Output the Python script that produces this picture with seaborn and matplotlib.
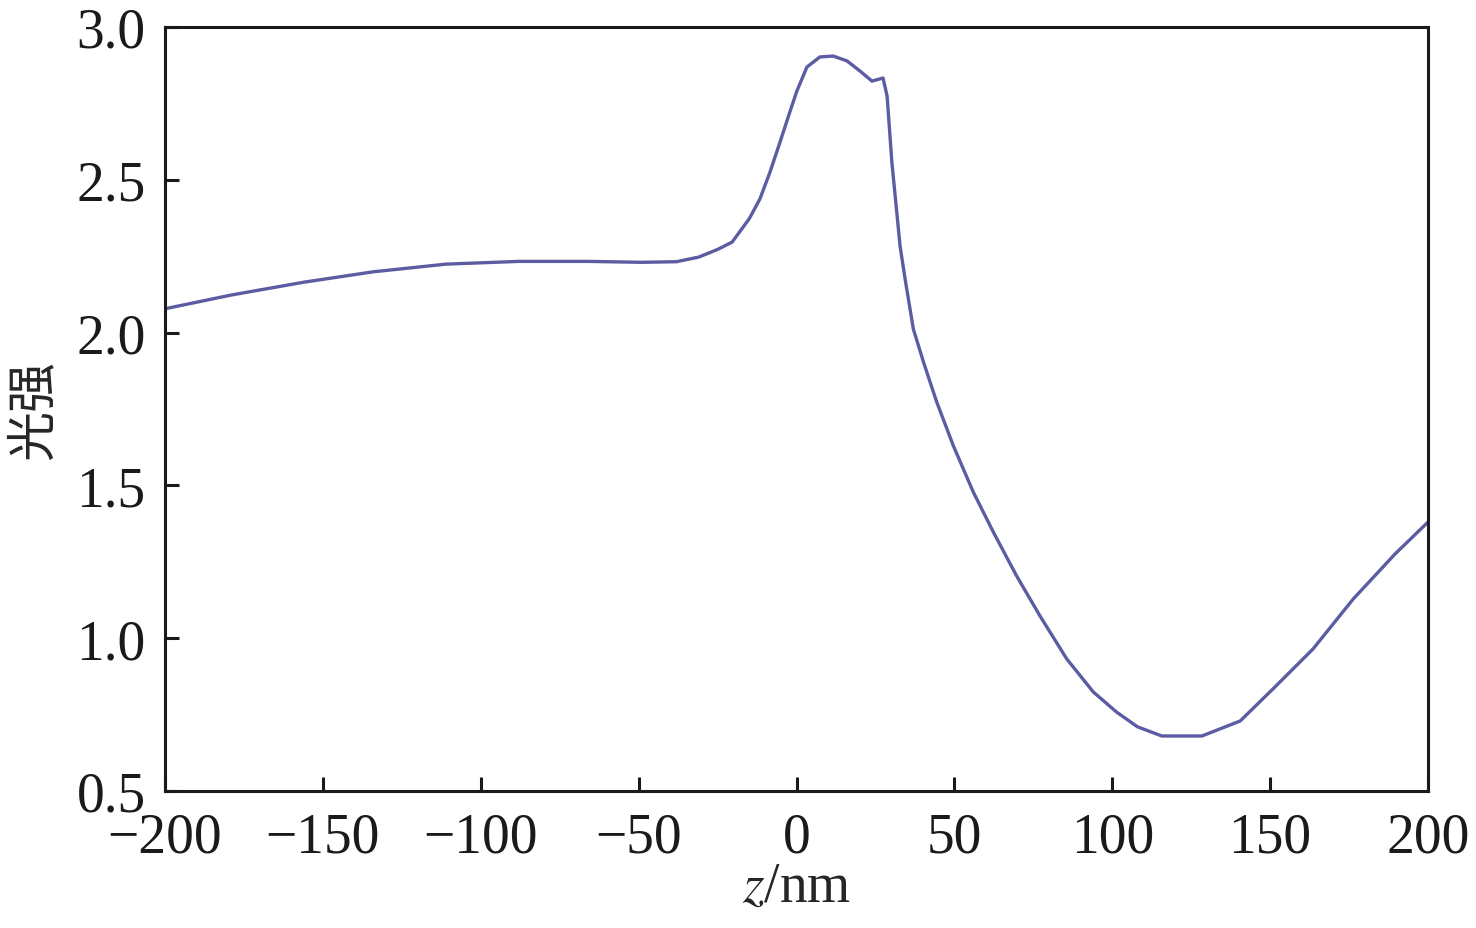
import numpy as np
import pandas as pd
import matplotlib
matplotlib.use("Agg")
import matplotlib.pyplot as plt
import seaborn as sns

# values
z_nm = [-200, -179, -156, -134, -111, -88, -66, -49, -38, -31, -25, -20.4,
        -15.0, -11.6, -8.4, -5.2, -2.1, 0.1, 3.3, 7.4, 11.6, 16.0, 20.1, 23.9,
        27.4, 28.7, 30.2, 32.8, 34.4, 37.0, 40.2, 44.4, 49.7, 56.0, 62.3,
        69.7, 77.1, 85.6, 94.0, 101.4, 108, 115.7, 128.4, 140.5, 150.9,
        163.6, 176.3, 189.6, 200]
intensity = [2.078, 2.123, 2.165, 2.199, 2.224, 2.233, 2.233, 2.230, 2.232,
             2.247, 2.272, 2.296, 2.372, 2.437, 2.525, 2.624, 2.722, 2.79,
             2.869, 2.902, 2.905, 2.889, 2.856, 2.823, 2.833, 2.774, 2.558,
             2.283, 2.175, 2.012, 1.904, 1.773, 1.629, 1.478, 1.348, 1.204,
             1.073, 0.932, 0.824, 0.758, 0.71, 0.68, 0.68, 0.729, 0.834,
             0.965, 1.128, 1.276, 1.38]
x_ticks = [-200, -150, -100, -50, 0, 50, 100, 150, 200]
y_ticks = [0.5, 1.0, 1.5, 2.0, 2.5, 3.0]

df = pd.DataFrame({"z": z_nm, "I": intensity})

sns.set_style("ticks")
plt.rcParams["font.family"] = ["Liberation Serif", "Noto Sans CJK SC", "DejaVu Sans"]
plt.rcParams["mathtext.fontset"] = "stix"

fig = plt.figure(figsize=(14.76, 9.29), dpi=100)
ax = fig.add_axes([165 / 1476, 1 - 792 / 929, 1263 / 1476, 764 / 929])

sns.lineplot(data=df, x="z", y="I", ax=ax, color="#5c5ca3", linewidth=2.4)

ax.set_xlim(-200, 200)
ax.set_ylim(0.5, 3.0)
ax.set_xticks(x_ticks)
ax.set_yticks(y_ticks)
ax.set_xticklabels([f"{t}".replace("-", "\u2212") for t in x_ticks])
ax.set_yticklabels([f"{t:.1f}" for t in y_ticks])
ax.tick_params(direction="in", length=10, width=2.2, labelsize=40,
               colors="#1a1a1a", top=False, right=False)
ax.tick_params(axis="y", pad=14)
ax.tick_params(axis="x", pad=15)

for s in ax.spines.values():
    s.set_color("#1a1a1a")
    s.set_linewidth(2.2)
    s.set_visible(True)

ax.set_xlabel("$z$/nm", fontsize=40, labelpad=-2)
ax.set_ylabel("光强", fontsize=36, family=["Noto Sans CJK SC"], labelpad=12)

fig.savefig("out.png", dpi=100, facecolor="white")
